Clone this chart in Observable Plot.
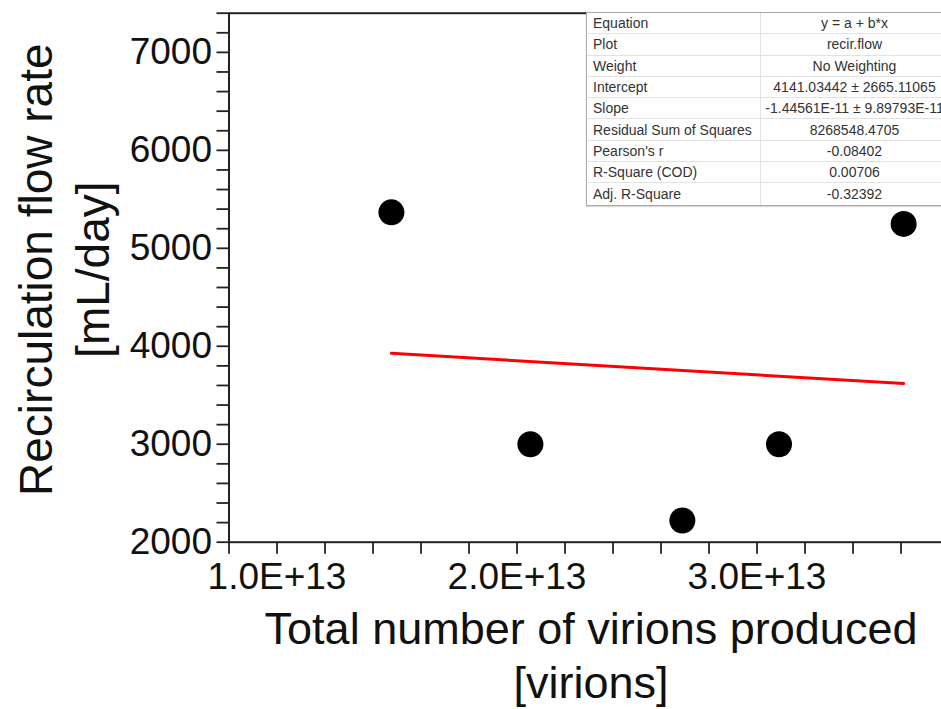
<!DOCTYPE html>
<html>
<head>
<meta charset="utf-8">
<script src="https://cdn.jsdelivr.net/npm/d3@7"></script>
<script src="https://cdn.jsdelivr.net/npm/@observablehq/plot@0.6"></script>
<style>
  html, body { margin: 0; padding: 0; background: #fff; overflow: hidden; }
  #wrap { position: relative; width: 941px; height: 709px; overflow: hidden; background: #fff;
          font-family: "Liberation Sans", Arial, Helvetica, sans-serif; }
  #chart { position: absolute; left: 0; top: 0; width: 960px; height: 709px; }
  #chart svg { max-width: none !important; width: 960px !important; height: 709px !important; }
  #stats { position: absolute; left: 586px; top: 12px; display: grid;
           grid-template-columns: 174px 187px; grid-auto-rows: 21.3px;
           border: 1px solid #a8a8a8; background: #fff; font-size: 14px; color: #333;
           box-shadow: 0 1px 1px rgba(0,0,0,0.15); }
  #stats div { display: flex; align-items: center; border-bottom: 1px solid #e2e2e2;
               white-space: nowrap; overflow: hidden; box-sizing: border-box; }
  #stats div.k { padding-left: 6px; border-right: 1px solid #e2e2e2; }
  #stats div.v { justify-content: center; }
  #stats div.last { border-bottom: none; }
</style>
</head>
<body>
<div id="wrap">
  <div id="chart"></div>
  <div id="stats"></div>
</div>
<script>
// Virion production vs. recirculation flow rate, one point per run
const virions = [1.4767e13, 2.0558e13, 2.689e13, 3.0917e13, 3.611e13];
const flowRate = [5367, 3000, 2221, 3000, 5249];

// Linear fit results (y = a + b*x)
const intercept = 4141.03442;
const interceptErr = 2665.11065;
const slope = -1.44561e-11;
const slopeErr = 9.89793e-11;

// Fit summary table
const statNames = ["Equation", "Plot", "Weight", "Intercept", "Slope",
  "Residual Sum of Squares", "Pearson's r", "R-Square (COD)", "Adj. R-Square"];
const statValues = ["y = a + b*x", "recir.flow", "No Weighting",
  `${intercept} ± ${interceptErr}`,
  `${slope.toExponential(5).toUpperCase()} ± ${slopeErr.toExponential(5).toUpperCase()}`,
  "8268548.4705", "-0.08402", "0.00706", "-0.32392"];

// Axis ticks
const yTicks = [2000, 2200, 2400, 2600, 2800, 3000, 3200, 3400, 3600, 3800, 4000, 4200, 4400,
  4600, 4800, 5000, 5200, 5400, 5600, 5800, 6000, 6200, 6400, 6600, 6800, 7000, 7200, 7400];
const yLabelTicks = [2000, 3000, 4000, 5000, 6000, 7000];
const xTicks = [0.8e13, 1.0e13, 1.2e13, 1.4e13, 1.6e13, 1.8e13, 2.0e13, 2.2e13, 2.4e13, 2.6e13,
  2.8e13, 3.0e13, 3.2e13, 3.4e13, 3.6e13, 3.8e13];
const xLabelTicks = [1e13, 2e13, 3e13];
const xTickLabels = ["1.0E+13", "2.0E+13", "3.0E+13"];

const xTitle = "Total number of virions produced\n[virions]";
const yTitle = "Recirculation flow rate\n[mL/day]";

const points = virions.map((v, i) => ({x: v, y: flowRate[i]}));
const xFit = d3.extent(virions);
const fitLine = xFit.map(x => ({x, y: intercept + slope * x}));

const font = '"Liberation Sans", Arial, Helvetica, sans-serif';

const chart = Plot.plot({
  width: 960,
  height: 709,
  marginLeft: 228.5,
  marginRight: 11.5,
  marginTop: 12.7,
  marginBottom: 167.3,
  x: {domain: [0.8e13, 3.8e13]},
  y: {domain: [2000, 7400]},
  style: {fontFamily: font, color: "#000", background: "transparent", overflow: "visible", maxWidth: "none"},
  marks: [
    Plot.axisY({
      ticks: yTicks, tickSize: 12, tickPadding: 5, fontSize: 37, strokeWidth: 1.8,
      stroke: "#222", fill: "#111",
      tickFormat: d => yLabelTicks.includes(d) ? String(d) : "",
      label: null
    }),
    Plot.axisX({
      ticks: xTicks, tickSize: 12, tickPadding: 9, fontSize: 37, strokeWidth: 1.8,
      stroke: "#222", fill: "#111",
      tickFormat: d => {
        const i = xLabelTicks.findIndex(t => Math.abs(t - d) < 1e9);
        return i >= 0 ? xTickLabels[i] : "";
      },
      label: null
    }),
    Plot.frame({stroke: "#222", strokeWidth: 2}),
    Plot.line(fitLine, {x: "x", y: "y", stroke: "#f00", strokeWidth: 3}),
    Plot.dot(points, {x: "x", y: "y", r: 13, fill: "#000", stroke: null}),
    Plot.text([yTitle], {
      frameAnchor: "left", rotate: -90, dx: -167, dy: -8,
      fontSize: 46, lineHeight: 1.24, lineAnchor: "middle", textAnchor: "middle", fill: "#111"
    }),
    Plot.text([xTitle], {
      frameAnchor: "bottom", dx: 2, dy: 112, fontSize: 45, lineHeight: 1.2,
      lineAnchor: "middle", textAnchor: "middle", fill: "#111"
    })
  ]
});
document.getElementById("chart").appendChild(chart);

// Fit summary table overlay
const stats = document.getElementById("stats");
statNames.forEach((name, i) => {
  const last = i === statNames.length - 1 ? " last" : "";
  const k = document.createElement("div");
  k.className = "k" + last;
  k.textContent = name;
  const v = document.createElement("div");
  v.className = "v" + last;
  v.textContent = statValues[i];
  stats.appendChild(k);
  stats.appendChild(v);
});
</script>
</body>
</html>
